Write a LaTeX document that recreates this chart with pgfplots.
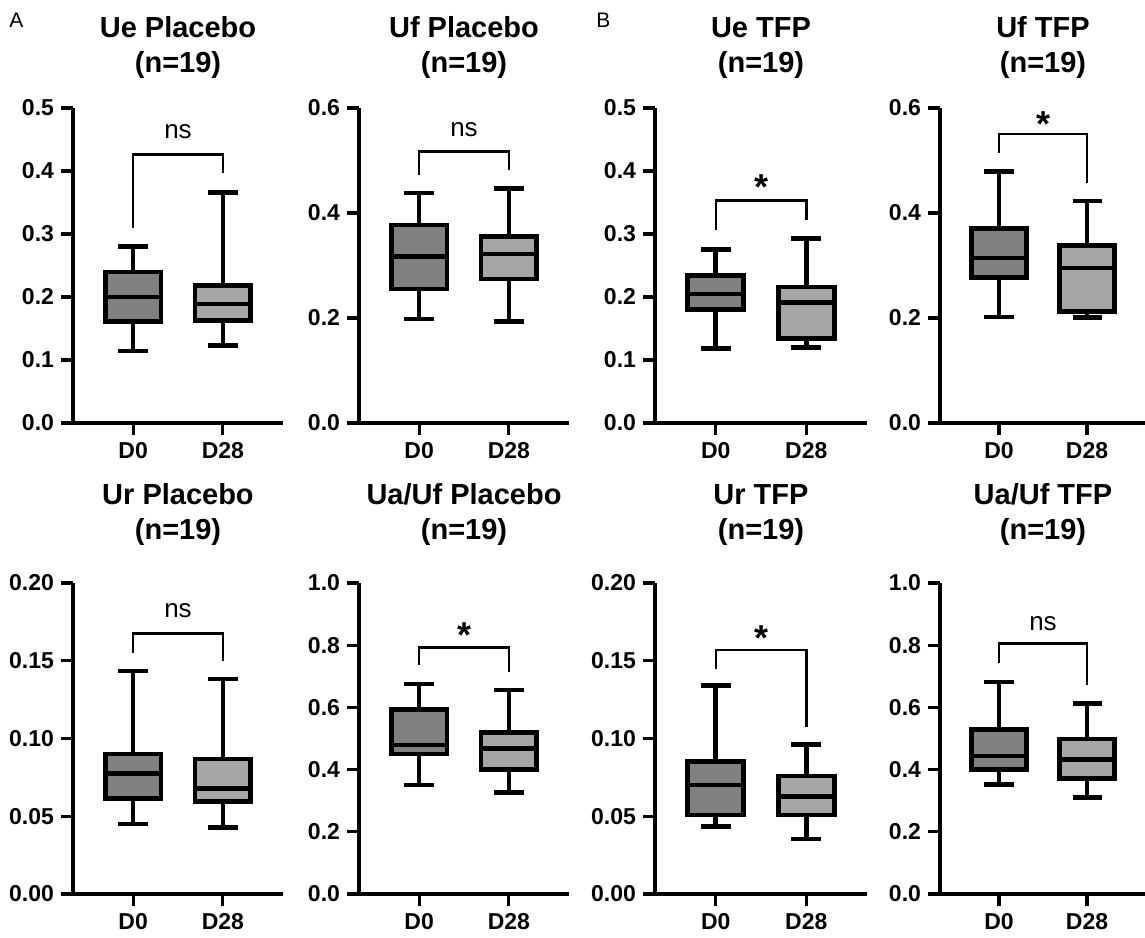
\documentclass[border=0pt]{standalone}
\usepackage{fontspec}
\setmainfont{Liberation Sans}
\usepackage{pgfplots}
\pgfplotsset{compat=1.18}
\usepgfplotslibrary{statistics}

\definecolor{dzero}{RGB}{128,128,128}
\definecolor{dtwenty}{RGB}{166,166,166}

\pgfplotsset{
  panel/.style={
    scale only axis, clip=false,
    axis x line*=bottom, axis y line*=left,
    x axis line style={-}, y axis line style={-},
    axis line style={line width=1.6pt, black},
    xmin=0.33, xmax=2.67, ymin=0,
    xtick={1,2}, xticklabels={D0,D28},
    tick align=outside, major tick length=6pt,
    tick style={line width=1.6pt, black},
    tick label style={font=\fontsize{11.5}{13}\selectfont\bfseries},
    yticklabel style={/pgf/number format/.cd, fixed, fixed zerofill, assume math mode=true},
    title style={font=\fontsize{14.5}{17.5}\selectfont\bfseries, align=center, anchor=south, inner sep=0pt},
  },
  prec1/.style={yticklabel style={/pgf/number format/precision=1}},
  prec2/.style={yticklabel style={/pgf/number format/precision=2}},
  row1/.style={height=157.5pt, title style={yshift=8.5pt}},
  row2/.style={height=155.5pt, title style={yshift=12.3pt}},
  box0/.style={draw=black, fill=dzero, line width=2.3pt, solid, mark=none},
  box1/.style={draw=black, fill=dtwenty, line width=2.3pt, solid, mark=none},
  bracket/.style={black, line width=1.2pt, mark=none},
}
\tikzset{
  nslab/.style={font=\fontsize{13}{13}\selectfont, inner sep=0pt, anchor=center},
  starlab/.style={font=\fontsize{18}{18}\selectfont\bfseries, inner sep=0pt, anchor=north},
}

\begin{document}
\begin{tikzpicture}
\useasboundingbox (0,0) rectangle (572.5pt,-468.5pt);
\node[font=\fontsize{10.5}{12}\selectfont, anchor=west, inner sep=0pt] at (4.5pt,-10pt) {A};
\node[font=\fontsize{10.5}{12}\selectfont, anchor=west, inner sep=0pt] at (298pt,-10pt) {B};

% Ue Placebo
\begin{axis}[panel, row1, prec1, at={(36.5pt,-211.5pt)}, anchor=south west, width=105pt,
  ymax=0.5, ytick={0,0.1,0.2,0.3,0.4,0.5}, title={Ue Placebo\\(n=19)}]
\addplot[box0, boxplot prepared={draw direction=y, box extend=0.62, whisker extend=0.33, draw position=1, lower whisker=0.1145, lower quartile=0.161, median=0.200, upper quartile=0.240, upper whisker=0.280}] coordinates {};
\addplot[box1, boxplot prepared={draw direction=y, box extend=0.62, whisker extend=0.33, draw position=2, lower whisker=0.1235, lower quartile=0.163, median=0.189, upper quartile=0.218, upper whisker=0.366}] coordinates {};
\addplot[bracket] coordinates {(1,0.309) (1,0.426) (2,0.426) (2,0.397)};
\node[nslab] at (axis cs:1.5,0.463) {ns};
\end{axis}

% Uf Placebo
\begin{axis}[panel, row1, prec1, at={(179.5pt,-211.5pt)}, anchor=south west, width=105pt,
  ymax=0.6, ytick={0,0.2,0.4,0.6}, title={Uf Placebo\\(n=19)}]
\addplot[box0, boxplot prepared={draw direction=y, box extend=0.62, whisker extend=0.33, draw position=1, lower whisker=0.198, lower quartile=0.255, median=0.317, upper quartile=0.377, upper whisker=0.438}] coordinates {};
\addplot[box1, boxplot prepared={draw direction=y, box extend=0.62, whisker extend=0.33, draw position=2, lower whisker=0.193, lower quartile=0.274, median=0.322, upper quartile=0.355, upper whisker=0.447}] coordinates {};
\addplot[bracket] coordinates {(1,0.473) (1,0.517) (2,0.517) (2,0.482)};
\node[nslab] at (axis cs:1.5,0.5585) {ns};
\end{axis}

% Ue TFP
\begin{axis}[panel, row1, prec1, at={(327.5pt,-211.5pt)}, anchor=south west, width=106pt,
  ymax=0.5, ytick={0,0.1,0.2,0.3,0.4,0.5}, title={Ue TFP\\(n=19)}]
\addplot[box0, boxplot prepared={draw direction=y, box extend=0.62, whisker extend=0.33, draw position=1, lower whisker=0.118, lower quartile=0.180, median=0.205, upper quartile=0.234, upper whisker=0.2757}] coordinates {};
\addplot[box1, boxplot prepared={draw direction=y, box extend=0.62, whisker extend=0.33, draw position=2, lower whisker=0.120, lower quartile=0.134, median=0.191, upper quartile=0.216, upper whisker=0.293}] coordinates {};
\addplot[bracket] coordinates {(1,0.306) (1,0.353) (2,0.353) (2,0.323)};
\node[starlab] at (axis cs:1.5,0.394) {*};
\end{axis}

% Uf TFP
\begin{axis}[panel, row1, prec1, at={(470pt,-211.5pt)}, anchor=south west, width=103pt,
  ymax=0.6, ytick={0,0.2,0.4,0.6}, title={Uf TFP\\(n=19)}]
\addplot[box0, boxplot prepared={draw direction=y, box extend=0.62, whisker extend=0.33, draw position=1, lower whisker=0.202, lower quartile=0.277, median=0.314, upper quartile=0.370, upper whisker=0.479}] coordinates {};
\addplot[box1, boxplot prepared={draw direction=y, box extend=0.62, whisker extend=0.33, draw position=2, lower whisker=0.201, lower quartile=0.212, median=0.295, upper quartile=0.338, upper whisker=0.423}] coordinates {};
\addplot[bracket] coordinates {(1,0.514) (1,0.550) (2,0.550) (2,0.458)};
\node[starlab] at (axis cs:1.5,0.5935) {*};
\end{axis}

% Ur Placebo
\begin{axis}[panel, row2, prec2, at={(36.5pt,-447pt)}, anchor=south west, width=105pt,
  ymax=0.2, ytick={0,0.05,0.10,0.15,0.20}, title={Ur Placebo\\(n=19)}]
\addplot[box0, boxplot prepared={draw direction=y, box extend=0.62, whisker extend=0.33, draw position=1, lower whisker=0.0451, lower quartile=0.0616, median=0.0776, upper quartile=0.0901, upper whisker=0.1435}] coordinates {};
\addplot[box1, boxplot prepared={draw direction=y, box extend=0.62, whisker extend=0.33, draw position=2, lower whisker=0.0428, lower quartile=0.0595, median=0.0680, upper quartile=0.0868, upper whisker=0.1382}] coordinates {};
\addplot[bracket] coordinates {(1,0.155) (1,0.1675) (2,0.1675) (2,0.150)};
\node[nslab] at (axis cs:1.5,0.1825) {ns};
\end{axis}

% Ua/Uf Placebo
\begin{axis}[panel, row2, prec1, at={(179.5pt,-447pt)}, anchor=south west, width=105pt,
  ymax=1.0, ytick={0,0.2,0.4,0.6,0.8,1.0}, title={Ua/Uf Placebo\\(n=19)}]
\addplot[box0, boxplot prepared={draw direction=y, box extend=0.62, whisker extend=0.33, draw position=1, lower whisker=0.351, lower quartile=0.450, median=0.479, upper quartile=0.594, upper whisker=0.675}] coordinates {};
\addplot[box1, boxplot prepared={draw direction=y, box extend=0.62, whisker extend=0.33, draw position=2, lower whisker=0.327, lower quartile=0.401, median=0.468, upper quartile=0.519, upper whisker=0.656}] coordinates {};
\addplot[bracket] coordinates {(1,0.736) (1,0.792) (2,0.792) (2,0.714)};
\node[starlab] at (axis cs:1.5,0.875) {*};
\end{axis}

% Ur TFP
\begin{axis}[panel, row2, prec2, at={(327.5pt,-447pt)}, anchor=south west, width=106pt,
  ymax=0.2, ytick={0,0.05,0.10,0.15,0.20}, title={Ur TFP\\(n=19)}]
\addplot[box0, boxplot prepared={draw direction=y, box extend=0.62, whisker extend=0.33, draw position=1, lower whisker=0.0434, lower quartile=0.0509, median=0.0702, upper quartile=0.0851, upper whisker=0.1339}] coordinates {};
\addplot[box1, boxplot prepared={draw direction=y, box extend=0.62, whisker extend=0.33, draw position=2, lower whisker=0.0355, lower quartile=0.0509, median=0.0627, upper quartile=0.0759, upper whisker=0.0963}] coordinates {};
\addplot[bracket] coordinates {(1,0.145) (1,0.157) (2,0.157) (2,0.1076)};
\node[starlab] at (axis cs:1.5,0.1728) {*};
\end{axis}

% Ua/Uf TFP
\begin{axis}[panel, row2, prec1, at={(470pt,-447pt)}, anchor=south west, width=103pt,
  ymax=1.0, ytick={0,0.2,0.4,0.6,0.8,1.0}, title={Ua/Uf TFP\\(n=19)}]
\addplot[box0, boxplot prepared={draw direction=y, box extend=0.62, whisker extend=0.33, draw position=1, lower whisker=0.353, lower quartile=0.401, median=0.444, upper quartile=0.529, upper whisker=0.682}] coordinates {};
\addplot[box1, boxplot prepared={draw direction=y, box extend=0.62, whisker extend=0.33, draw position=2, lower whisker=0.311, lower quartile=0.372, median=0.433, upper quartile=0.498, upper whisker=0.613}] coordinates {};
\addplot[bracket] coordinates {(1,0.743) (1,0.805) (2,0.805) (2,0.672)};
\node[nslab] at (axis cs:1.5,0.870) {ns};
\end{axis}
\end{tikzpicture}
\end{document}
